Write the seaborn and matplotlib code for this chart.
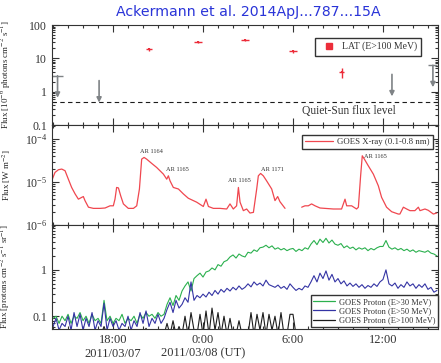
import numpy as np
import pandas as pd
import matplotlib
matplotlib.use("Agg")
import matplotlib.pyplot as plt
import matplotlib.ticker as mticker
from matplotlib.lines import Line2D
import seaborn as sns

# Time axis: hours relative to 2011-03-08 00:00 UT
tick_hours = [-6, 0, 6, 12]
tick_labels = ["18:00\n2011/03/07", "0:00\n2011/03/08 (UT)", "6:00", "12:00"]

# ---- Fermi-LAT (E>100 MeV) detections [1e-6 photons cm^-2 s^-1]
lat_hours = [-3.6, -0.33, 2.8, 6.0, 9.25]
lat_flux = [18.6, 30.5, 35.0, 16.3, 4.0]
lat_hours_err = [0.22, 0.28, 0.28, 0.28, 0.18]
lat_flux_lo = [1.8, 2.5, 2.5, 1.5, 1.35]
lat_flux_hi = [2.0, 2.8, 2.8, 1.7, 1.3]

# LAT upper limits
ul_hours = [-9.7, -6.93, 12.6, 15.33]
ul_flux = [3.0, 2.15, 3.3, 6.2]
ul_hours_err = [0.35, 0.0, 0.0, 0.3]

quiet_sun_flux = 0.5

# ---- GOES X-ray 0.1-0.8 nm [W m^-2], two segments around a data gap
xray_hours_a = [-10.09, -9.87, -9.64, -9.42, -9.2, -8.98, -8.76, -8.53, -8.31, -8.09,
                -7.98, -7.87, -7.64, -7.31, -6.87, -6.53, -6.2, -5.98, -5.87, -5.76,
                -5.64, -5.49, -5.31, -4.98, -4.64, -4.42, -4.24, -4.09, -3.93, -3.76,
                -3.42, -3.09, -2.64, -2.42, -2.31, -2.2, -1.98, -1.64, -1.31, -0.98,
                -0.42, 0.02, 0.2, 0.36, 0.69, 1.13, 1.58, 1.8, 2.02, 2.24,
                2.36, 2.47, 2.69, 2.91, 3.13, 3.36, 3.58, 3.69, 3.84, 4.02,
                4.24, 4.58, 4.8, 4.98, 5.13, 5.47]
xray_flux_a = [1.07e-5, 1.68e-5, 1.94e-5, 2.01e-5, 1.84e-5, 1.17e-5, 7.5e-6, 5.3e-6, 4.0e-6, 4.4e-6,
               4.6e-6, 3.7e-6, 2.6e-6, 2.44e-6, 2.44e-6, 2.49e-6, 2.8e-6, 2.8e-6, 4.0e-6, 7.5e-6,
               7.3e-6, 4.8e-6, 3.1e-6, 2.44e-6, 2.44e-6, 2.8e-6, 6.9e-6, 3.43e-5, 3.75e-5, 3.43e-5,
               2.72e-5, 2.19e-5, 1.53e-5, 1.17e-5, 1.40e-5, 1.07e-5, 7.5e-6, 6.9e-6, 5.3e-6, 4.2e-6,
               3.4e-6, 2.7e-6, 4.0e-6, 2.7e-6, 2.44e-6, 2.44e-6, 2.36e-6, 3.1e-6, 2.36e-6, 2.8e-6,
               7.5e-6, 3.4e-6, 2.16e-6, 2.36e-6, 1.90e-6, 1.97e-6, 6.9e-6, 1.40e-5, 1.59e-5, 1.40e-5,
               1.07e-5, 6.9e-6, 3.7e-6, 4.6e-6, 3.5e-6, 2.44e-6]
xray_hours_b = [6.58, 6.8, 7.02, 7.24, 7.47, 7.8, 8.13, 8.69, 9.24, 9.47,
                9.58, 9.91, 10.24, 10.36, 10.51, 10.62, 10.76, 11.02, 11.36, 11.69,
                11.91, 12.24, 12.58, 13.02, 13.13, 13.36, 13.58, 13.8, 14.13, 14.36,
                14.47, 14.8, 15.02, 15.36, 15.58]
xray_flux_b = [2.6e-6, 2.8e-6, 2.8e-6, 3.1e-6, 2.8e-6, 2.49e-6, 2.44e-6, 2.36e-6, 2.36e-6, 4.0e-6,
               2.8e-6, 2.8e-6, 2.36e-6, 2.6e-6, 1.40e-5, 4.1e-5, 3.43e-5, 2.4e-5, 1.53e-5, 8.2e-6,
               4.4e-6, 2.6e-6, 2.04e-6, 1.80e-6, 1.80e-6, 2.6e-6, 2.36e-6, 2.16e-6, 2.16e-6, 2.6e-6,
               2.16e-6, 2.36e-6, 2.2e-6, 1.80e-6, 1.90e-6]

# Active-region labels on the X-ray flares
ar_names = ["AR 1164", "AR 1165", "AR 1165", "AR 1171", "AR 1165"]
ar_hours = [-3.42, -1.73, 2.43, 4.6, 11.5]
ar_flux = [5.1e-5, 2.0e-5, 1.11e-5, 2.0e-5, 3.95e-5]

# ---- GOES protons [protons cm^-2 s^-1 sr^-1], 12-minute samples
proton_start, proton_step = -10.0, 0.2
p30 = [0.09, 0.10, 0.07, 0.10, 0.08, 0.11, 0.07, 0.10, 0.09, 0.12,
       0.08, 0.10, 0.07, 0.11, 0.08, 0.09, 0.07, 0.22, 0.08, 0.10,
       0.07, 0.09, 0.08, 0.11, 0.07, 0.09, 0.08, 0.10, 0.07, 0.11,
       0.09, 0.12, 0.10, 0.11, 0.09, 0.12, 0.10, 0.11, 0.18, 0.25,
       0.17, 0.28, 0.22, 0.35, 0.45, 0.55, 0.35, 0.65, 0.75, 0.85,
       0.70, 0.90, 0.95, 1.1, 1.0, 1.3, 1.2, 1.5, 1.6, 1.9,
       2.1, 1.8, 2.2, 2.0, 1.9, 2.4, 2.3, 2.7, 2.5, 3.0,
       3.1, 3.4, 3.0, 3.3, 2.8, 3.0, 2.7, 2.9, 2.6, 2.8,
       2.9, 2.5, 2.8, 2.6, 3.0, 2.8, 3.6, 4.3, 3.5, 4.6,
       3.9, 4.8, 3.8, 4.4, 3.6, 3.4, 3.7, 3.0, 3.3, 2.9,
       3.1, 2.7, 3.0, 2.8, 3.0, 2.6, 2.9, 2.7, 3.0, 3.2,
       3.2, 4.3, 3.1, 2.8, 3.0, 2.7, 2.9, 2.6, 2.8, 2.5,
       2.7, 2.4, 2.6, 2.5, 2.4, 2.6, 2.3, 2.2, 2.0]
p50 = [0.06, 0.09, 0.05, 0.07, 0.06, 0.10, 0.05, 0.12, 0.06, 0.11,
       0.05, 0.09, 0.06, 0.12, 0.05, 0.08, 0.06, 0.19, 0.05, 0.09,
       0.06, 0.08, 0.05, 0.07, 0.06, 0.10, 0.05, 0.08, 0.06, 0.12,
       0.07, 0.13, 0.06, 0.09, 0.07, 0.11, 0.07, 0.09, 0.14, 0.20,
       0.12, 0.22, 0.15, 0.18, 0.25, 0.20, 0.55, 0.22, 0.28, 0.25,
       0.30, 0.26, 0.33, 0.28, 0.36, 0.30, 0.38, 0.33, 0.40, 0.35,
       0.42, 0.37, 0.45, 0.38, 0.42, 0.50, 0.43, 0.55, 0.47, 0.52,
       0.45, 0.60, 0.48, 0.45, 0.42, 0.47, 0.40, 0.44, 0.38, 0.50,
       0.42, 0.36, 0.40, 0.37, 0.45, 0.42, 0.55, 0.75, 0.55, 0.85,
       0.65, 0.95, 0.60, 0.80, 0.55, 0.65, 0.50, 0.58, 0.45, 0.52,
       0.44, 0.50, 0.42, 0.48, 0.40, 0.46, 0.42, 0.50, 0.44, 0.55,
       0.62, 1.0, 0.50, 0.45, 0.52, 0.40, 0.48, 0.42, 0.55, 0.45,
       0.50, 0.40, 0.48, 0.42, 0.50, 0.38, 0.42, 0.33, 0.36]
p100 = [0.04, 0.04, 0.04, 0.04, 0.04, 0.04, 0.04, 0.04, 0.04, 0.04,
        0.04, 0.04, 0.04, 0.04, 0.04, 0.04, 0.04, 0.06, 0.04, 0.04,
        0.04, 0.04, 0.04, 0.04, 0.04, 0.04, 0.04, 0.04, 0.04, 0.04,
        0.04, 0.055, 0.04, 0.04, 0.04, 0.04, 0.04, 0.04, 0.07, 0.04,
        0.08, 0.04, 0.06, 0.04, 0.10, 0.04, 0.12, 0.05, 0.04, 0.11,
        0.04, 0.13, 0.04, 0.15, 0.05, 0.12, 0.04, 0.10, 0.04, 0.09,
        0.04, 0.04, 0.08, 0.04, 0.05, 0.04, 0.12, 0.04, 0.11, 0.05,
        0.12, 0.04, 0.11, 0.05, 0.10, 0.04, 0.12, 0.04, 0.04, 0.11,
        0.11, 0.04, 0.04, 0.04, 0.04, 0.04, 0.04, 0.04, 0.04, 0.04,
        0.04, 0.04, 0.04, 0.04, 0.04, 0.04, 0.04, 0.04, 0.04, 0.04,
        0.04, 0.04, 0.04, 0.04, 0.04, 0.04, 0.04, 0.04, 0.04, 0.04,
        0.04, 0.04, 0.04, 0.04, 0.04, 0.04, 0.04, 0.04, 0.04, 0.04,
        0.04, 0.04, 0.04, 0.04, 0.04, 0.04, 0.04, 0.04, 0.04]
proton_labels = ["GOES Proton (E>30 MeV)", "GOES Proton (E>50 MeV)", "GOES Proton (E>100 MeV)"]

RED = "#ec2d3a"
XRED = "#f0474f"
GREEN = "#2bb04e"
BLUE = "#3434a4"
BLACK = "#1c1c1c"
GRAY = "#7f8386"
INK = "#333333"

sns.set_theme(style="ticks")
plt.rcParams["font.family"] = ["Liberation Serif", "DejaVu Serif"]
plt.rcParams["mathtext.fontset"] = "stix"
plt.rcParams["axes.edgecolor"] = INK
plt.rcParams["axes.linewidth"] = 0.8
plt.rcParams["text.color"] = INK
plt.rcParams["xtick.color"] = INK
plt.rcParams["ytick.color"] = INK

fig = plt.figure(figsize=(4.41, 3.63), dpi=100)
left, width = 52 / 441, 386 / 441
ax1 = fig.add_axes([left, 1 - 125 / 363, width, 100 / 363])
ax2 = fig.add_axes([left, 1 - 225 / 363, width, 100 / 363], sharex=ax1)
ax3 = fig.add_axes([left, 1 - 329 / 363, width, 104 / 363], sharex=ax1)

# ---- top: LAT
sns.scatterplot(x=lat_hours, y=lat_flux, marker="s", s=3, color=RED, linewidth=0,
                legend=False, ax=ax1, zorder=4)
ax1.errorbar(lat_hours, lat_flux, xerr=lat_hours_err, yerr=[lat_flux_lo, lat_flux_hi],
             fmt="none", ecolor=RED, elinewidth=1.0, capsize=0, zorder=3)
ax1.errorbar(ul_hours, ul_flux, xerr=ul_hours_err, fmt="none", ecolor=GRAY,
             elinewidth=1.0, capsize=0)
for t, f in zip(ul_hours, ul_flux):
    ax1.annotate("", xy=(t, f * 10 ** -0.66), xytext=(t, f),
                 arrowprops=dict(arrowstyle="-|>", color=GRAY, lw=1.2,
                                 mutation_scale=7, shrinkA=0, shrinkB=0))
ax1.axhline(quiet_sun_flux, color=BLACK, lw=0.8, ls=(0, (4, 3)))
ax1.text(9.73, 0.265, "Quiet-Sun flux level", ha="center", va="center", fontsize=8.3)
ax1.set_ylim(0.1, 100)
ax1.legend(handles=[Line2D([], [], marker="s", color=RED, ls="none", markersize=4)],
           labels=["LAT (E>100 MeV)"], loc="upper right", bbox_to_anchor=(0.956, 0.875),
           fontsize=7, frameon=True, fancybox=False, edgecolor=INK, framealpha=1,
           handletextpad=0.3, borderpad=0.45, borderaxespad=0)
ax1.set_ylabel("Flux [10$^{-6}$ photons cm$^{-2}$ s$^{-1}$]", fontsize=6.5)

# ---- middle: GOES X-ray
sns.lineplot(x=xray_hours_a, y=xray_flux_a, color=XRED, lw=0.9, estimator=None,
             sort=False, legend=False, ax=ax2)
sns.lineplot(x=xray_hours_b, y=xray_flux_b, color=XRED, lw=0.9, estimator=None,
             sort=False, legend=False, ax=ax2)
for name, t, f in zip(ar_names, ar_hours, ar_flux):
    ax2.text(t, f, name, ha="center", va="center", fontsize=4.6)
ax2.set_ylim(1e-6, 10 ** -3.67)
ax2.legend(handles=[Line2D([], [], color=XRED, lw=0.9)], labels=["GOES X-ray (0.1-0.8 nm)"],
           loc="upper right", bbox_to_anchor=(0.987, 0.90), fontsize=6.3, frameon=True,
           fancybox=False, edgecolor=INK, framealpha=1, handlelength=3.2,
           handletextpad=0.5, borderpad=0.35, borderaxespad=0)
ax2.set_ylabel("Flux [W m$^{-2}$]", fontsize=6.5)

# ---- bottom: GOES protons
proton_hours = np.round(proton_start + proton_step * np.arange(len(p30)), 2)
for vals, col in zip([p30, p50, p100], [GREEN, BLUE, BLACK]):
    sns.lineplot(x=proton_hours, y=vals, color=col, lw=0.8, estimator=None,
                 sort=False, legend=False, ax=ax3)
ax3.set_ylim(0.053, 9.3)
ax3.legend(handles=[Line2D([], [], color=c, lw=0.9) for c in (GREEN, BLUE, BLACK)],
           labels=proton_labels, loc="lower right", bbox_to_anchor=(1.0, 0.02),
           fontsize=6.0, frameon=True, fancybox=False, edgecolor=INK, framealpha=1,
           handlelength=2.6, handletextpad=0.5, borderpad=0.3, labelspacing=0.15,
           borderaxespad=0)
ax3.set_ylabel("Flux [protons cm$^{-2}$ s$^{-1}$ sr$^{-1}$]", fontsize=6.5)

plain = mticker.FuncFormatter(lambda v, _: f"{v:g}")
for ax in (ax1, ax2, ax3):
    ax.set_yscale("log")
    ax.set_xlim(-10.07, 15.67)
    ax.set_xlabel("")
    ax.xaxis.set_major_locator(mticker.FixedLocator(tick_hours))
    ax.xaxis.set_minor_locator(mticker.MultipleLocator(1))
    ax.yaxis.set_major_locator(mticker.LogLocator(base=10))
    ax.yaxis.set_minor_locator(mticker.LogLocator(base=10, subs=np.arange(2, 10)))
    ax.yaxis.set_minor_formatter(mticker.NullFormatter())
    ax.tick_params(which="both", direction="in", top=True, right=True, width=0.8)
    ax.tick_params(which="major", length=5, labelsize=8.5, pad=3.5)
    ax.tick_params(which="minor", length=2.5)
    ax.yaxis.set_label_coords(-0.1, 0.5)
ax1.yaxis.set_major_formatter(plain)
ax3.yaxis.set_major_formatter(plain)
ax2.yaxis.set_major_formatter(mticker.LogFormatterSciNotation())
ax1.tick_params(labelbottom=False)
ax2.tick_params(labelbottom=False)
ax3.set_xticks(tick_hours)
ax3.set_xticklabels(tick_labels, fontsize=9)

fig.text(0.562, 0.966, "Ackermann et al. 2014ApJ...787...15A", ha="center", va="center",
         color="#2a34d8", fontsize=10.2, family="DejaVu Sans")

fig.savefig("out.png", dpi=100)
